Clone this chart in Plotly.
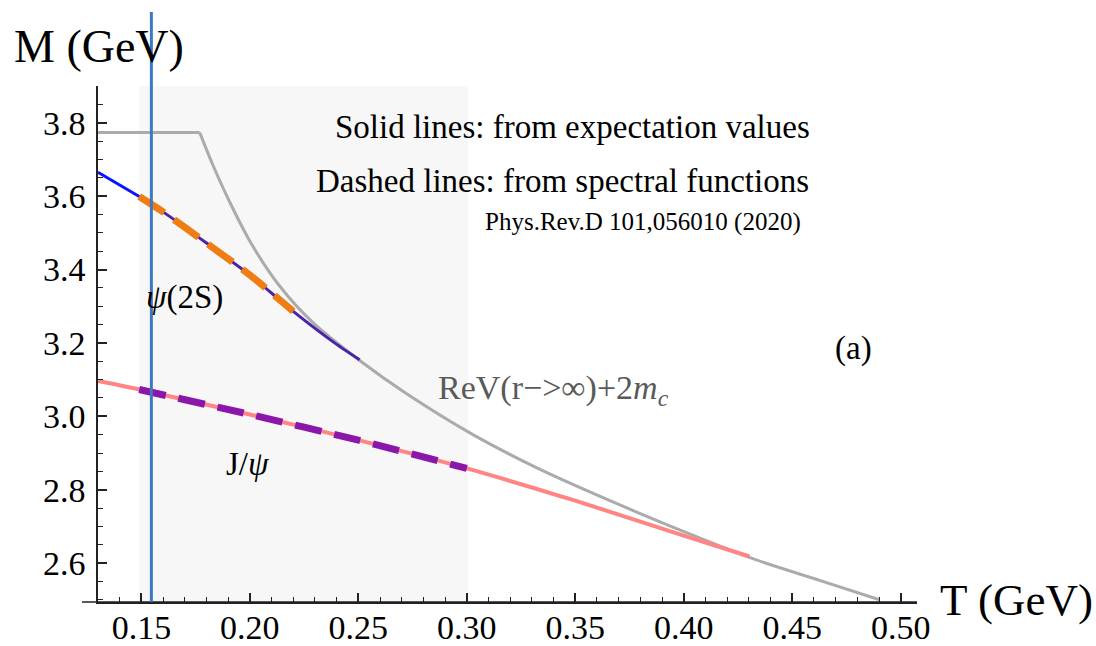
import plotly.graph_objects as go

# ---------------- data ----------------
T_range = [0.13, 0.5075]
M_range = [2.494, 3.9]

# continuum threshold ReV(r->inf)+2mc (grey): flat part, then falling part
T_cont_flat = [0.13, 0.1769]
M_cont_flat = [3.773, 3.773]
T_cont = [0.1769, 0.183, 0.1907, 0.2007, 0.2137, 0.2291, 0.2506, 0.2721,
          0.3028, 0.3335, 0.3719, 0.4012, 0.4318, 0.4626, 0.4902]
M_cont = [3.773, 3.684, 3.584, 3.470, 3.355, 3.255, 3.152, 3.062,
          2.950, 2.856, 2.755, 2.683, 2.612, 2.553, 2.500]

# psi(2S) from expectation values (solid)
T_psi2s = [0.13, 0.149, 0.16, 0.18, 0.20, 0.22, 0.24, 0.2506]
M_psi2s = [3.665, 3.599, 3.557, 3.472, 3.385, 3.286, 3.196, 3.154]
# psi(2S) from spectral functions (dashed)
T_psi2s_sp = [0.149, 0.16, 0.18, 0.20, 0.22]
M_psi2s_sp = [3.599, 3.557, 3.472, 3.385, 3.286]

# J/psi from expectation values (solid)
T_jpsi = [0.13, 0.149, 0.20, 0.25, 0.30, 0.35, 0.40, 0.4303]
M_jpsi = [3.096, 3.073, 3.005, 2.935, 2.858, 2.770, 2.675, 2.618]
# J/psi from spectral functions (dashed)
T_jpsi_sp = [0.149, 0.20, 0.25, 0.30]
M_jpsi_sp = [3.073, 3.005, 2.935, 2.858]

# shaded temperature window and marker line
T_band = [0.149, 0.3005]
T_marker = 0.1546

x_ticks = [0.15, 0.20, 0.25, 0.30, 0.35, 0.40, 0.45, 0.50]
x_ticklabels = ["0.15", "0.20", "0.25", "0.30", "0.35", "0.40", "0.45", "0.50"]
y_ticks = [2.6, 2.8, 3.0, 3.2, 3.4, 3.6, 3.8]
y_ticklabels = ["2.6", "2.8", "3.0", "3.2", "3.4", "3.6", "3.8"]

# ---------------- layout helpers ----------------
W, H = 1096, 646
L, R, T, B = 98, 179, 86, 44
PW, PH = W - L - R, H - T - B


def px(x):
    return (x - L) / PW


def py(y):
    return (H - B - y) / PH


FONT = "Liberation Serif, Times New Roman, serif"

fig = go.Figure()

split = T_psi2s.index(0.149)

fig.add_trace(go.Scatter(x=T_cont_flat, y=M_cont_flat, mode="lines",
                         line=dict(color="#ababab", width=3), hoverinfo="skip"))
fig.add_trace(go.Scatter(x=T_cont, y=M_cont, mode="lines",
                         line=dict(color="#ababab", width=3, shape="spline",
                                   smoothing=0.8),
                         hoverinfo="skip"))
fig.add_trace(go.Scatter(x=T_jpsi, y=M_jpsi, mode="lines",
                         line=dict(color="#ff8585", width=4, shape="spline",
                                   smoothing=0.6),
                         hoverinfo="skip"))
fig.add_trace(go.Scatter(x=T_jpsi_sp, y=M_jpsi_sp, mode="lines",
                         line=dict(color="#8a16aa", width=7, dash="27px,13px",
                                   shape="spline", smoothing=0.6),
                         hoverinfo="skip"))
fig.add_trace(go.Scatter(x=T_psi2s[:split + 1], y=M_psi2s[:split + 1], mode="lines",
                         line=dict(color="#0a14ff", width=3), hoverinfo="skip"))
fig.add_trace(go.Scatter(x=T_psi2s[split:], y=M_psi2s[split:], mode="lines",
                         line=dict(color="#4a24a8", width=3, shape="spline",
                                   smoothing=0.6),
                         hoverinfo="skip"))
fig.add_trace(go.Scatter(x=T_psi2s_sp, y=M_psi2s_sp, mode="lines",
                         line=dict(color="#f07d14", width=7, dash="30px,12px",
                                   shape="spline", smoothing=0.6),
                         hoverinfo="skip"))

shapes = [
    dict(type="rect", xref="x", yref="y", x0=T_band[0], x1=T_band[1],
         y0=M_range[0], y1=M_range[1], fillcolor="#f7f7f7", line=dict(width=0),
         layer="below"),
    dict(type="line", xref="paper", yref="paper", x0=px(82), x1=1.0, y0=0, y1=0,
         line=dict(color="#222222", width=1.5), layer="above"),
    dict(type="line", xref="x", yref="paper", x0=T_marker, x1=T_marker,
         y0=0, y1=py(12), line=dict(color="#3d78c0", width=3), layer="above"),
]

annotations = [
    dict(text="M (GeV)", x=px(12), y=py(46), xanchor="left", yanchor="middle",
         font=dict(size=46, family=FONT, color="black")),
    dict(text="T (GeV)", x=px(938), y=py(600), xanchor="left", yanchor="middle",
         font=dict(size=45, family=FONT, color="black")),
    dict(text="Solid lines: from expectation values", x=px(812), y=py(127),
         xanchor="right", yanchor="middle", font=dict(size=33, family=FONT, color="black")),
    dict(text="Dashed lines: from spectral functions", x=px(811), y=py(181),
         xanchor="right", yanchor="middle", font=dict(size=33, family=FONT, color="black")),
    dict(text="Phys.Rev.D 101,056010 (2020)", x=px(803), y=py(222),
         xanchor="right", yanchor="middle", font=dict(size=25, family=FONT, color="black")),
    dict(text="<i>ψ</i>(2S)", x=px(144), y=py(297), xanchor="left", yanchor="middle",
         font=dict(size=33, family=FONT, color="black")),
    dict(text="J/<i>ψ</i>", x=px(224), y=py(464), xanchor="left", yanchor="middle",
         font=dict(size=33, family=FONT, color="black")),
    dict(text="(a)", x=px(833), y=py(348), xanchor="left", yanchor="middle",
         font=dict(size=33, family=FONT, color="black")),
    dict(text="ReV(r−>∞)+2<i>m</i><sub><i>c</i></sub>", x=px(436), y=py(390),
         xanchor="left", yanchor="middle",
         font=dict(size=34, family=FONT, color="#5a5a5a")),
]
for a in annotations:
    a.update(xref="paper", yref="paper", showarrow=False)

fig.update_layout(
    width=W, height=H,
    margin=dict(l=L, r=R, t=T, b=B, pad=0),
    paper_bgcolor="white", plot_bgcolor="white",
    showlegend=False,
    shapes=shapes,
    annotations=annotations,
    xaxis=dict(range=T_range, showgrid=False, zeroline=False, automargin=False,
               showline=True, linecolor="#222222", linewidth=1.5,
               ticks="inside", ticklen=9, tickwidth=1.5, tickcolor="#222222",
               tickvals=x_ticks, ticktext=x_ticklabels,
               tickfont=dict(size=34, family=FONT, color="black"),
               ticklabelstandoff=-6,
               minor=dict(ticks="inside", ticklen=5, tickwidth=1.2,
                          tickcolor="#222222", dtick=0.01, tick0=0.13,
                          showgrid=False)),
    yaxis=dict(range=M_range, showgrid=False, zeroline=False, automargin=False,
               showline=True, linecolor="#222222", linewidth=1.5,
               ticks="inside", ticklen=9, tickwidth=1.5, tickcolor="#222222",
               tickvals=y_ticks, ticktext=y_ticklabels,
               tickfont=dict(size=34, family=FONT, color="black"),
               ticklabelstandoff=4,
               minor=dict(ticks="inside", ticklen=5, tickwidth=1.2,
                          tickcolor="#222222", dtick=0.05, tick0=2.5,
                          showgrid=False)),
)

fig.write_html("out.html")
